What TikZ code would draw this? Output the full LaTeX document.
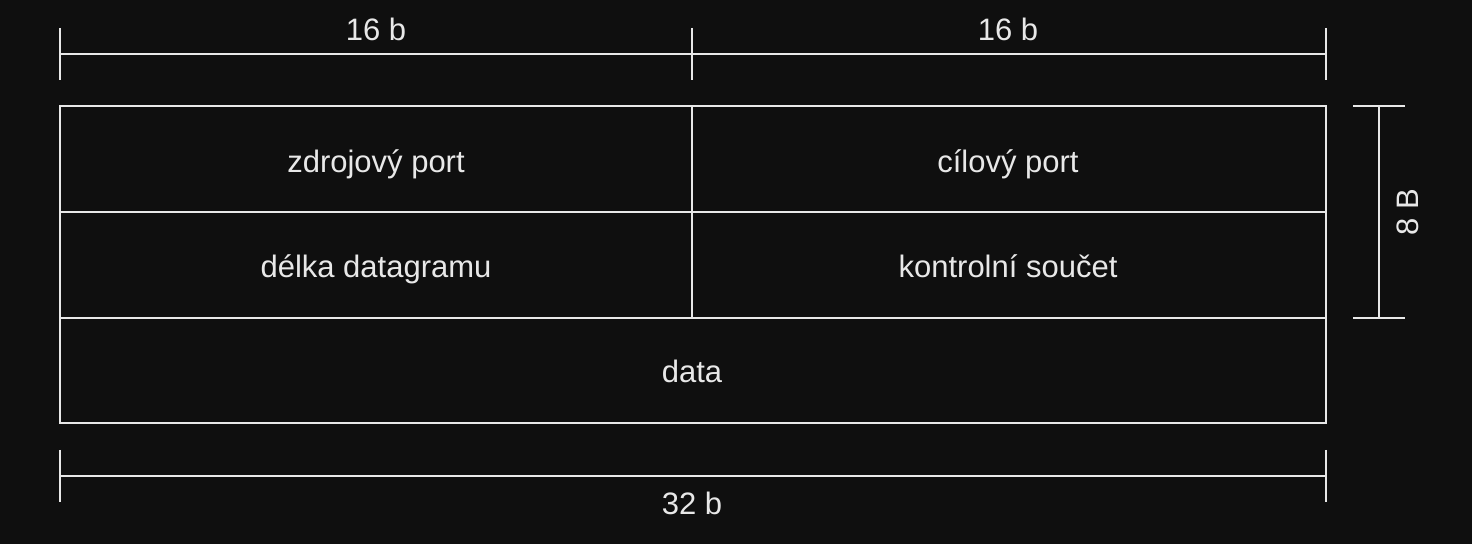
\documentclass[tikz,border=0pt]{standalone}
\usepackage{fontspec}
\setmainfont{Liberation Sans}
\definecolor{bg}{HTML}{0F0F0F}
\definecolor{ink}{HTML}{E8E8E8}
\begin{document}
\begin{tikzpicture}[x=0.5pt,y=-0.5pt,
  ln/.style={draw=ink,line width=1pt},
  lbl/.style={text=ink,font=\fontsize{15.5}{18}\selectfont,inner sep=0pt,anchor=base},
  field/.style={text=ink,font=\fontsize{15.5}{18}\selectfont,inner sep=0pt,anchor=base}]
\fill[bg] (0,0) rectangle (1472,544);
\useasboundingbox (0,0) rectangle (1472,544);
% box corners
\coordinate (tl) at (60,106);
\coordinate (br) at (1326,423);
\coordinate (tm) at (692,106);
\coordinate (mm) at (692,318);
\coordinate (r1l) at (60,212);
\coordinate (r1r) at (1326,212);
\coordinate (r2l) at (60,318);
\coordinate (r2r) at (1326,318);
\draw[ln] (tl) rectangle (br);
\draw[ln] (r1l) -- (r1r);
\draw[ln] (r2l) -- (r2r);
\draw[ln] (tm) -- (mm);
% fields
\node[field] (src) at (376,173) {zdrojový port};
\node[field] (dst) at (1008,173) {cílový port};
\node[field] (len) at (376,278) {délka datagramu};
\node[field] (sum) at (1008,278) {kontrolní součet};
\node[field] (dat) at (692,383) {data};
% top dimension
\coordinate (ta) at (60,54);
\coordinate (tb) at (692,54);
\coordinate (tc) at (1326,54);
\draw[ln] (ta) -- (tc);
\draw[ln] (60,28) -- (60,80);
\draw[ln] (692,28) -- (692,80);
\draw[ln] (1326,28) -- (1326,80);
\node[lbl] (t1) at (376,41) {16 b};
\node[lbl] (t2) at (1008,41) {16 b};
% bottom dimension
\coordinate (ba) at (60,476);
\coordinate (bc) at (1326,476);
\draw[ln] (ba) -- (bc);
\draw[ln] (60,450) -- (60,502);
\draw[ln] (1326,450) -- (1326,502);
\node[lbl] (b1) at (692,515) {32 b};
% right dimension
\coordinate (ra) at (1379,106);
\coordinate (rb) at (1379,318);
\draw[ln] (ra) -- (rb);
\draw[ln] (1353,106) -- (1405,106);
\draw[ln] (1353,318) -- (1405,318);
\node[lbl,rotate=90] (r1) at (1418,212) {8 B};
\end{tikzpicture}
\end{document}
